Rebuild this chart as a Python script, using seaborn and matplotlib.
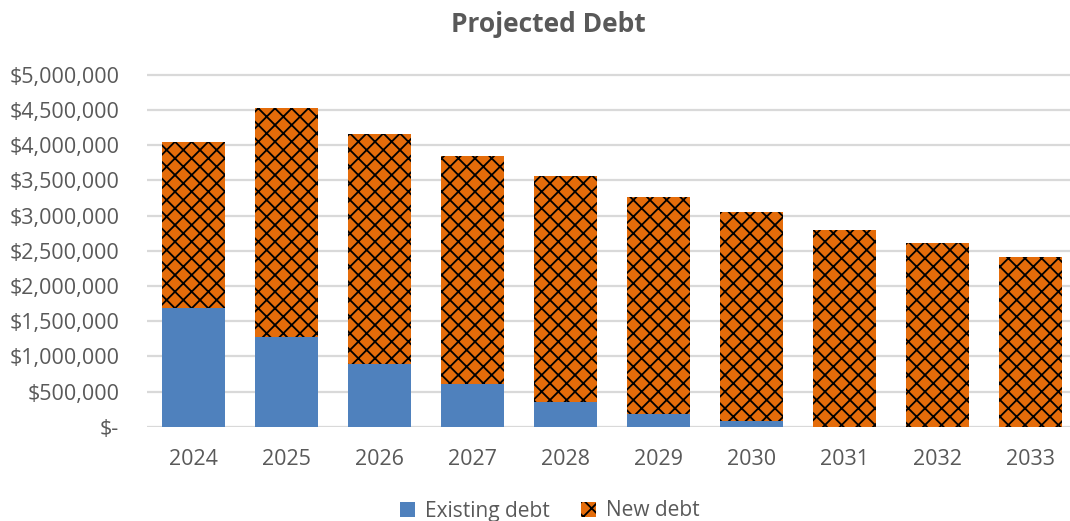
import matplotlib
matplotlib.use("Agg")
import matplotlib.pyplot as plt
import matplotlib.ticker as mticker
from matplotlib.patches import Patch
import numpy as np
import pandas as pd
import seaborn as sns

# Projected debt by year (USD)
years = ["2024", "2025", "2026", "2027", "2028", "2029", "2030", "2031", "2032", "2033"]
existing_debt = [1690000, 1270000, 895000, 600000, 345000, 175000, 75000, 0, 0, 0]
new_debt = [2350000, 3260000, 3265000, 3250000, 3215000, 3095000, 2975000, 2800000, 2605000, 2405000]
y_ticks = [0, 500000, 1000000, 1500000, 2000000, 2500000, 3000000, 3500000, 4000000, 4500000, 5000000]

BLUE = "#4F81BD"
ORANGE = "#E46C0A"
TEXT = "#595959"
GRID = "#D9D9D9"

sns.set_theme(style="white")
plt.rcParams["font.family"] = ["Open Sans", "DejaVu Sans"]
plt.rcParams["hatch.linewidth"] = 1.3

df = pd.DataFrame({"year": years, "existing": existing_debt, "new": new_debt})
df["total"] = df["existing"] + df["new"]

fig = plt.figure(figsize=(10.7, 5.21), dpi=100)
ax = fig.add_axes([147 / 1070, 94.3 / 521, 930 / 1070, 355.5 / 521])

# stacked bars: full height (new debt on top) first, existing debt over its base
sns.barplot(data=df, x="year", y="total", order=years, color=ORANGE, width=0.67,
            hatch="xx", edgecolor="black", linewidth=0, saturation=1, ax=ax)
sns.barplot(data=df, x="year", y="existing", order=years, color=BLUE, width=0.67,
            edgecolor="none", linewidth=0, saturation=1, ax=ax)

ax.set_ylim(0, 5.05e6)
ax.set_xlim(-0.5, len(years) - 0.5)
ax.set_yticks(y_ticks)


def dollars(v, _pos):
    return "$-" if v == 0 else f"${v:,.0f}"


ax.yaxis.set_major_formatter(mticker.FuncFormatter(dollars))
ax.grid(axis="y", color=GRID, linewidth=1.6)
ax.set_axisbelow(True)
for s in ax.spines.values():
    s.set_visible(False)
ax.tick_params(axis="both", length=0, labelsize=15.5, colors=TEXT)
ax.tick_params(axis="y", pad=20)
ax.tick_params(axis="x", pad=16)
ax.set_xlabel("")
ax.set_ylabel("")

fig.text(548 / 1070, 1 - 24 / 521, "Projected Debt", ha="center", va="center",
         fontsize=19, fontweight="bold", color=TEXT)

handles = [
    Patch(facecolor=BLUE, edgecolor="none", label="Existing debt"),
    Patch(facecolor=ORANGE, edgecolor="black", hatch="xx", linewidth=0, label="New debt"),
]
fig.legend(handles=handles, loc="center", bbox_to_anchor=(550 / 1070, 1 - 511 / 521),
           ncol=2, frameon=False, fontsize=15, labelcolor=TEXT,
           handlelength=0.7, handleheight=0.7, handletextpad=0.5, columnspacing=1.5)

fig.savefig("out.png", dpi=100)
